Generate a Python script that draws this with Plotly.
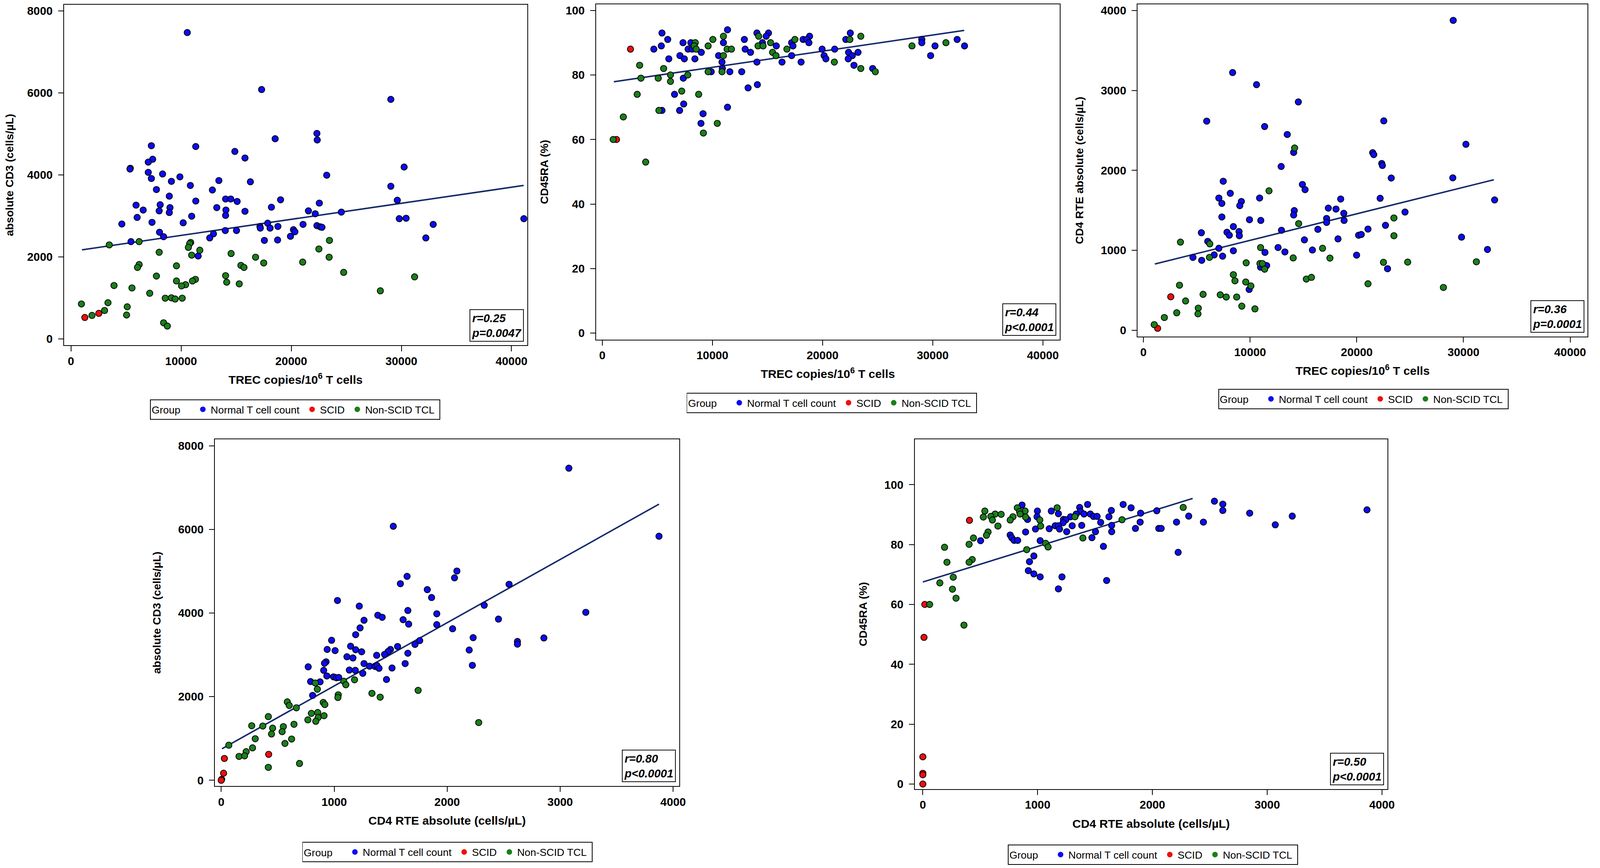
import plotly.graph_objects as go

# colours of the three groups
BLUE = "#0b0bf2"
RED = "#f00d0d"
GREEN = "#1a7f1a"
FIT = "#14296b"

group_names = ["Normal T cell count", "SCID", "Non-SCID TCL"]

# ---- panel 1 : TREC vs absolute CD3 ----
p1_normal_x = [10560, 17310, 29040, 22330, 22360, 18540, 7300, 11330, 14880, 15800, 7420, 7020, 5390, 5360,
               7020, 8320, 30250, 23220, 9890, 7300, 9120, 13430, 16290, 10840, 29040, 7760, 12840, 8930,
               14040, 14510, 11330, 15090, 19030, 29630, 22550, 5910, 8100, 18200, 13240, 8990, 14070, 6560,
               8010, 21560, 8930, 15800, 22180, 24550, 14040, 10960, 6010, 29810, 30430, 41120, 7360, 4620,
               10190, 17860, 32890, 21070, 22330, 17160, 17190, 18080, 18790, 22640, 22790, 20200, 20330,
               14010, 15030, 8040, 12940, 8410, 12600, 19930, 32220, 5450, 17560, 18760, 11550]
p1_normal_y = [7470, 6080, 5840, 5010, 4850, 4880, 4710, 4690, 4570, 4410, 4380, 4310, 4160, 4140, 4060, 4020,
               4190, 3990, 3950, 3910, 3840, 3860, 3830, 3740, 3720, 3640, 3630, 3480, 3410, 3410, 3360, 3350,
               3390, 3380, 3310, 3260, 3270, 3210, 3200, 3200, 3140, 3140, 3120, 3120, 3080, 3110, 3050, 3090,
               3010, 2990, 2960, 2930, 2940, 2930, 2840, 2800, 2830, 2820, 2790, 2790, 2760, 2740, 2700, 2700,
               2740, 2730, 2720, 2660, 2610, 2640, 2640, 2600, 2560, 2490, 2460, 2500, 2460, 2370, 2400, 2410,
               2020]
p1_scid_x = [1260, 2530]
p1_scid_y = [520, 620]
p1_other_x = [3480, 6190, 23470, 10870, 10780, 10660, 11700, 22510, 8010, 10960, 14540, 16760, 23440, 17500,
              21040, 6190, 6040, 9580, 15430, 15710, 24760, 7760, 14040, 31200, 11300, 11030, 9580, 14140,
              15280, 10410, 10040, 3910, 5540, 28090, 7150, 8560, 9120, 9460, 10100, 950, 3360, 5110, 3050,
              1910, 5050, 8410, 8750]
p1_other_y = [2290, 2370, 2400, 2350, 2320, 2230, 2160, 2190, 2110, 2040, 2080, 1990, 1990, 1850, 1870, 1810,
              1740, 1780, 1790, 1740, 1620, 1530, 1540, 1510, 1450, 1410, 1410, 1380, 1340, 1320, 1290, 1300,
              1240, 1170, 1110, 990, 1000, 970, 990, 850, 880, 780, 690, 570, 580, 390, 310]
p1_fit_x = [1000, 41100]
p1_fit_y = [2170, 3740]

# ---- panel 2 : TREC vs CD45RA ----
p2_normal_x = [11370, 5420, 14040, 15090, 22520, 14880, 18820, 5940, 12900, 18230, 18570, 22110, 29010, 32220,
               7330, 11000, 14540, 17190, 18760, 29010, 5360, 15800, 17310, 30210, 32890, 4680, 8040, 7790,
               8160, 12970, 19960, 21100, 8990, 13460, 22360, 23220, 7050, 10560, 17190, 20140, 22700, 29810,
               6040, 7450, 8410, 20300, 22330, 10870, 14040, 16320, 18050, 22850, 24550, 10900, 9890, 11580,
               12660, 7360, 14080, 13240, 6560, 7390, 7020, 5420, 11370, 9150, 8960]
p2_normal_y = [94, 93, 93, 93, 93, 92, 92, 91, 91, 91, 91, 91, 91, 91, 90, 90, 90, 90, 90, 90, 89, 89, 89, 89,
               89, 88, 90, 88, 88, 88, 88, 88, 87, 87, 87, 87, 86, 86, 86, 86, 86, 86, 85, 85, 85, 85, 85, 84,
               84, 84, 84, 83, 82, 82, 81, 81, 81, 79, 77, 76, 74, 71, 69, 69, 70, 68, 65]
p2_scid_x = [1290, 2560]
p2_scid_y = [60, 88]
p2_other_x = [11000, 23470, 14200, 10040, 17490, 22480, 8440, 15280, 31200, 8350, 9610, 14140, 14600, 28120,
              8530, 11330, 11730, 16760, 15460, 15770, 11000, 21070, 3390, 5570, 23470, 9610, 10870, 24790,
              6190, 7760, 3510, 5080, 6190, 3170, 8750, 7210, 5140, 1910, 10440, 9180, 990, 3940]
p2_other_y = [92, 92, 92, 91, 91, 91, 90, 90, 90, 89, 89, 89, 89, 89, 88, 88, 88, 88, 87, 86, 86, 84, 83, 82,
              82, 81, 81, 81, 80, 80, 79, 79, 78, 74, 74, 75, 69, 67, 65, 62, 60, 53]
p2_fit_x = [1050, 32860]
p2_fit_y = [77.9, 93.8]

# ---- panel 3 : TREC vs CD4 RTE ----
p3_normal_x = [29040, 8360, 10600, 14520, 5930, 22530, 11360, 13480, 30230, 14080, 21490, 21590, 12910, 22340,
               22400, 7480, 23230, 29000, 14900, 15150, 8140, 7070, 10890, 22190, 18490, 32920, 9180, 7350,
               9030, 17330, 18050, 14140, 24520, 14080, 18780, 7350, 17170, 9940, 11000, 18810, 17170, 22690,
               8430, 16350, 21050, 12940, 5430, 7830, 8960, 8050, 8990, 20170, 20420, 29820, 18240, 6030,
               15090, 7070, 12620, 15840, 32250, 8430, 13260, 11390, 4640, 6630, 7420, 19980, 5460, 10980,
               11550, 22880, 9910]
p3_normal_y = [3876, 3223, 3072, 2856, 2616, 2619, 2548, 2449, 2326, 2224, 2221, 2197, 2049, 2086, 2061, 1864,
               1904, 1907, 1824, 1759, 1713, 1654, 1654, 1651, 1642, 1630, 1611, 1587, 1559, 1528, 1516, 1497,
               1479, 1442, 1463, 1417, 1399, 1383, 1374, 1374, 1349, 1313, 1297, 1263, 1266, 1251, 1220, 1226,
               1235, 1189, 1183, 1189, 1198, 1165, 1143, 1112, 1131, 1026, 1035, 1004, 1011, 995, 980, 974,
               912, 943, 927, 940, 875, 789, 810, 770, 511]
p3_scid_x = [2560, 1330]
p3_scid_y = [419, 25]
p3_other_x = [14170, 11770, 14550, 23480, 23480, 3470, 6220, 10980, 16790, 6190, 17480, 14040, 9630, 10920,
              11150, 22500, 24770, 31210, 11360, 8430, 8580, 9590, 15270, 15750, 21050, 28120, 3380, 10070,
              5590, 7200, 7760, 8740, 3950, 9220, 10450, 5140, 3120, 5110, 1960, 1010]
p3_other_y = [2280, 1744, 1334, 1405, 1183, 1103, 1081, 1035, 1026, 912, 903, 905, 844, 835, 835, 850, 853,
              857, 764, 696, 619, 604, 641, 662, 582, 536, 564, 555, 450, 444, 416, 416, 367, 302, 268, 277,
              219, 206, 160, 71]
p3_fit_x = [1070, 32850]
p3_fit_y = [829, 1883]

# ---- panel 4 : CD4 RTE vs absolute CD3 ----
p4_normal_x = [3077, 1523, 3875, 2086, 2065, 1645, 1586, 2548, 1824, 1862, 1029, 1222, 2328, 1652, 1908, 1386,
               1425, 3227, 2454, 1610, 1264, 1659, 1908, 1229, 2048, 1190, 2230, 2856, 977, 2622, 2622, 1757,
               1145, 1715, 1561, 938, 1008, 1190, 1243, 2195, 1498, 1477, 1652, 1376, 1446, 1113, 1166, 928,
               914, 1264, 1628, 2223, 1313, 1362, 1379, 1397, 770, 1512, 1134, 1187, 1253, 907, 935, 994,
               1019, 1040, 791, 875, 1463, 809]
p4_normal_y = [7464, 6075, 5836, 5004, 4842, 4877, 4701, 4687, 4560, 4370, 4299, 4165, 4186, 4060, 3982, 3947,
               3898, 4017, 3855, 3841, 3827, 3735, 3721, 3644, 3623, 3482, 3411, 3404, 3348, 3320, 3256, 3341,
               3207, 3249, 3200, 3129, 3101, 3122, 3073, 3115, 3129, 3080, 3038, 2988, 3009, 2953, 2925, 2833,
               2798, 2791, 2791, 2749, 2728, 2721, 2742, 2678, 2713, 2685, 2636, 2629, 2558, 2629, 2495, 2474,
               2453, 2460, 2361, 2354, 2410, 2030]
p4_scid_x = [28, 420, 21, 4, 0]
p4_scid_y = [522, 620, 169, 21, 0]
p4_other_x = [1085, 1103, 1180, 833, 851, 1743, 1334, 1407, 1036, 1033, 585, 602, 665, 903, 917, 798, 854, 858,
              910, 767, 837, 2279, 417, 270, 368, 455, 550, 644, 539, 445, 301, 623, 67, 564, 277, 221, 158,
              207, 417, 693]
p4_other_y = [2368, 2284, 2403, 2326, 2178, 2150, 2079, 1988, 2044, 1980, 1875, 1790, 1734, 1861, 1811, 1600,
              1621, 1501, 1544, 1445, 1410, 1381, 1522, 1304, 1297, 1247, 1283, 1339, 1163, 1107, 994, 987,
              839, 881, 775, 684, 571, 585, 310, 402]
p4_fit_x = [7, 3875]
p4_fit_y = [754, 6604]

# ---- panel 5 : CD4 RTE vs CD45RA ----
p5_normal_x = [2540, 2613, 1745, 1435, 864, 1814, 1366, 3869, 2613, 1642, 2038, 1119, 998, 1373, 1181, 1404,
               1459, 1897, 2847, 1336, 1287, 1487, 1518, 1621, 2316, 3218, 995, 912, 1225, 1246, 1893, 1549,
               2210, 2444, 3070, 1222, 1153, 1181, 1384, 1301, 1645, 1101, 1191, 981, 1852, 2055, 2076, 1253,
               895, 1504, 1645, 761, 774, 795, 826, 503, 1022, 1473, 1573, 967, 2224, 929, 919, 967, 1022,
               1212, 1601, 1181]
p5_normal_y = [94.5, 93.5, 93.4, 93.4, 93.2, 92.3, 92.4, 91.6, 91.4, 91.4, 91.3, 91.2, 91.2, 91.1, 90.3, 90.2,
               90.2, 90.5, 90.5, 90.2, 89.3, 89.4, 89.4, 89.3, 89.5, 89.5, 89.3, 88.4, 88.4, 88.3, 87.5, 87.4,
               87.5, 87.5, 86.6, 87.3, 86.3, 86.3, 86.4, 86.3, 86.4, 85.3, 85.2, 85.2, 85.4, 85.4, 85.4, 84.3,
               84.2, 84.3, 84.3, 83.2, 82.3, 81.4, 81.4, 81.3, 81.3, 82.3, 79.4, 76.2, 77.4, 74.3, 71.3, 70.2,
               69.2, 69.2, 68.0, 65.2]
p5_scid_x = [406, 17, 10, 0, 0, 0, 0]
p5_scid_y = [88.1, 60.0, 49.0, 9.1, 3.6, 3.1, 0.0]
p5_other_x = [2268, 823, 1170, 540, 891, 843, 847, 630, 682, 785, 592, 527, 895, 761, 606, 1019, 1735, 1325,
              654, 1026, 568, 554, 441, 1394, 403, 1070, 1091, 189, 905, 430, 210, 403, 265, 148, 258, 289,
              59, 358]
p5_other_y = [92.4, 92.3, 92.3, 91.2, 91.2, 91.0, 90.2, 90.2, 90.1, 89.3, 89.4, 89.2, 89.2, 88.2, 88.2, 88.2,
              88.3, 89.3, 86.2, 86.2, 84.2, 83.1, 82.2, 82.2, 80.1, 80.4, 79.2, 79.1, 78.3, 75.0, 74.1, 74.1,
              69.1, 67.2, 65.1, 62.1, 60.0, 53.1]
p5_fit_x = [0, 2350]
p5_fit_y = [67.5, 95.4]

stats_text = ["r=0.25<br>p=0.0047", "r=0.44<br>p<0.0001", "r=0.36<br>p=0.0001", "r=0.80<br>p<0.0001",
              "r=0.50<br>p<0.0001"]

x_titles = ["TREC copies/10<sup>6</sup> T cells", "TREC copies/10<sup>6</sup> T cells",
            "TREC copies/10<sup>6</sup> T cells", "CD4 RTE absolute (cells/µL)", "CD4 RTE absolute (cells/µL)"]
y_titles = ["absolute CD3 (cells/µL)", "CD45RA (%)", "CD4 RTE absolute (cells/µL)", "absolute CD3 (cells/µL)",
            "CD45RA (%)"]

panels = [
    (p1_normal_x, p1_normal_y, p1_scid_x, p1_scid_y, p1_other_x, p1_other_y, p1_fit_x, p1_fit_y),
    (p2_normal_x, p2_normal_y, p2_scid_x, p2_scid_y, p2_other_x, p2_other_y, p2_fit_x, p2_fit_y),
    (p3_normal_x, p3_normal_y, p3_scid_x, p3_scid_y, p3_other_x, p3_other_y, p3_fit_x, p3_fit_y),
    (p4_normal_x, p4_normal_y, p4_scid_x, p4_scid_y, p4_other_x, p4_other_y, p4_fit_x, p4_fit_y),
    (p5_normal_x, p5_normal_y, p5_scid_x, p5_scid_y, p5_other_x, p5_other_y, p5_fit_x, p5_fit_y),
]

# layout of the five panels, in reference pixels (4350 x 2223 canvas)
W, H = 4350, 2223
frames = [(167, 1437, 3, 885), (1626, 2897, 2, 870), (3111, 4345, 2, 862),
          (581, 1854, 1128, 2026), (2500, 3796, 1128, 2034)]
x_ranges = [[-629, 41420], [-563, 41520], [-546, 41640], [-55, 4054], [-70, 4047]]
y_ranges = [[-160, 8150], [-2.0, 101.9], [-77, 4077], [-138, 8157], [-1.7, 115.2]]
x_dticks = [10000, 10000, 10000, 1000, 1000]
y_dticks = [2000, 20, 1000, 2000, 20]
y_maxtick = [8000, 100, 4000, 8000, 100]
legend_pos = [(801, 1051), (2272, 1034), (3730, 1024), (1218, 2197), (3153, 2204)]

# the page is drawn a bit bigger than css pixels, so px sizes are set a little smaller
S = 1 / 1.056
SANS = "Liberation Sans, Arial, sans-serif"
TICKFONT = dict(family=SANS, size=31 * S, color="black", weight="bold")
XTFONT = dict(family=SANS, size=32 * S, color="black", weight="bold")
YTFONT = dict(family=SANS, size=30 * S, color="black", weight="bold")
LEGFONT = dict(family=SANS, size=28 * S, color="black")
NBSP = "\u00a0"

fig = go.Figure()
annotations = []

for i, (nx_, ny_, sx, sy, ox, oy, fx, fy) in enumerate(panels):
    k = "" if i == 0 else str(i + 1)
    xa, ya = "x" + k, "y" + k
    leg = "legend" + k

    fig.add_trace(go.Scatter(x=fx, y=fy, mode="lines", xaxis=xa, yaxis=ya, showlegend=False,
                             line=dict(color=FIT, width=4 * S)))
    for gx, gy, col in [(nx_, ny_, BLUE), (sx, sy, RED), (ox, oy, GREEN)]:
        fig.add_trace(go.Scatter(x=gx, y=gy, mode="markers", xaxis=xa, yaxis=ya, showlegend=False,
                                 marker=dict(color=col, size=17 * S, line=dict(color="black", width=2 * S))))
    # legend-only entries (plain dots like the original key)
    for name, col in zip(group_names, [BLUE, RED, GREEN]):
        fig.add_trace(go.Scatter(x=[None], y=[None], mode="markers", name=name + NBSP, legend=leg,
                                 xaxis=xa, yaxis=ya, marker=dict(color=col, size=15 * S)))

    x0, x1, y0, y1 = frames[i]
    axis_common = dict(showline=True, linecolor="black", linewidth=2 * S, mirror=True, ticks="outside",
                       ticklen=14 * S, tickwidth=2 * S, tickcolor="black", showgrid=False, zeroline=False,
                       tickfont=TICKFONT, tickformat="d")
    fig.update_layout({
        "xaxis" + k: dict(domain=[x0 / W, x1 / W], range=x_ranges[i], anchor=ya, tick0=0, dtick=x_dticks[i],
                          ticklabelstandoff=0,
                          title=dict(text=x_titles[i], font=XTFONT, standoff=22), **axis_common),
        "yaxis" + k: dict(domain=[1 - y1 / H, 1 - y0 / H], range=y_ranges[i], anchor=xa,
                          tickvals=list(range(0, y_maxtick[i] + 1, y_dticks[i])), ticklabelstandoff=8,
                          title=dict(text=y_titles[i], font=YTFONT, standoff=36), **axis_common),
        leg: dict(orientation="h", x=legend_pos[i][0] / W, y=1 - legend_pos[i][1] / H, xanchor="center",
                  yanchor="middle", bordercolor="black", borderwidth=2 * S, font=LEGFONT, bgcolor="white",
                  title=dict(text="Group" + NBSP * 4, side="left", font=LEGFONT), itemwidth=30,
                  tracegroupgap=0),
    })

    annotations.append(dict(xref="paper", yref="paper", x=(x1 - 9) / W, y=1 - (y1 - 10) / H,
                            xanchor="right", yanchor="bottom", align="left", showarrow=False,
                            text=stats_text[i], bordercolor="black", borderwidth=2 * S, borderpad=4,
                            bgcolor="white",
                            font=dict(family=SANS, size=31 * S, color="black", weight="bold",
                                      style="italic")))

# no fixed width/height: the figure fills the browser window
fig.update_layout(autosize=True, margin=dict(l=0, r=0, t=0, b=0), paper_bgcolor="white",
                  plot_bgcolor="white", annotations=annotations)

fig.write_html("out.html")
